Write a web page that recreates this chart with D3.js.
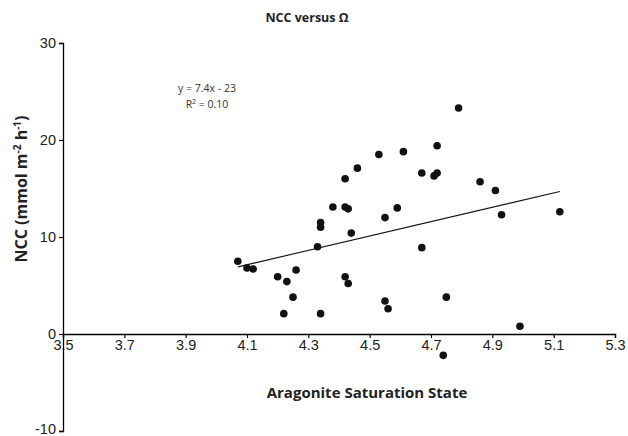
<!DOCTYPE html>
<html>
<head>
<meta charset="utf-8">
<script src="https://cdn.jsdelivr.net/npm/d3@7"></script>
<style>
  body { margin: 0; background: #fff; }
  svg { font-family: "Open Sans", "Liberation Sans", sans-serif; }
</style>
</head>
<body>
<svg width="628" height="436"></svg>
<script>
// saturation state vs NCC
var omega = [4.07, 4.10, 4.12, 4.20, 4.23, 4.26, 4.25, 4.22, 4.34, 4.33,
             4.42, 4.43, 4.44, 4.55, 4.56, 4.34, 4.34, 4.38, 4.42, 4.43,
             4.42, 4.46, 4.53, 4.61, 4.55, 4.59, 4.67, 4.79, 4.72, 4.71,
             4.72, 4.86, 4.91, 4.93, 5.12, 4.67, 4.75, 4.99, 4.74];
var ncc = [7.5, 6.8, 6.7, 5.9, 5.4, 6.6, 3.8, 2.1, 2.1, 9.0,
           5.9, 5.2, 10.4, 3.4, 2.6, 11.5, 11.0, 13.1, 13.1, 12.9,
           16.0, 17.1, 18.5, 18.8, 12.0, 13.0, 16.6, 23.3, 19.4, 16.3,
           16.6, 15.7, 14.8, 12.3, 12.6, 8.9, 3.8, 0.8, -2.2];

var xTicks = [3.5, 3.7, 3.9, 4.1, 4.3, 4.5, 4.7, 4.9, 5.1, 5.3];
var yTicks = [-10, 0, 10, 20, 30];
var trend = { slope: 7.4, intercept: -23.2 };

var svg = d3.select("svg");

var x = d3.scaleLinear().domain([3.5, 5.3]).range([63, 615]);
var y = d3.scaleLinear().domain([-10, 30]).range([431, 43]);

// x axis sits on y = 0
var xAxis = svg.append("g")
    .attr("transform", "translate(0," + y(0) + ")")
    .call(d3.axisBottom(x).tickValues(xTicks).tickSize(4).tickPadding(2).tickFormat(d3.format(".1f")));
xAxis.select(".domain").attr("stroke", "#000").attr("stroke-width", 1.3);
xAxis.selectAll(".tick line").attr("stroke", "#000").attr("stroke-width", 1.2);
xAxis.selectAll(".tick text").attr("fill", "#222").style("font-size", "14.5px");

var yAxis = svg.append("g")
    .attr("transform", "translate(" + x(3.5) + ",0)")
    .call(d3.axisLeft(y).tickValues(yTicks).tickSize(4).tickPadding(3)
      .tickFormat(function(d) { return String(d); }));
yAxis.select(".domain").attr("stroke", "#000").attr("stroke-width", 1.3);
yAxis.selectAll(".tick line").attr("stroke", "#000").attr("stroke-width", 1.2);
yAxis.selectAll(".tick text").attr("fill", "#222").style("font-size", "14.5px");
yAxis.selectAll(".tick text").filter(function(d) { return d === -10; }).attr("dy", "0.2em");

// trendline over data range
var x0 = d3.min(omega), x1 = d3.max(omega);
svg.append("line")
    .attr("x1", x(x0)).attr("y1", y(trend.slope * x0 + trend.intercept))
    .attr("x2", x(x1)).attr("y2", y(trend.slope * x1 + trend.intercept))
    .attr("stroke", "#111").attr("stroke-width", 1.1);

svg.append("g").selectAll("circle")
    .data(omega)
    .enter().append("circle")
    .attr("cx", function(d) { return x(d); })
    .attr("cy", function(d, i) { return y(ncc[i]); })
    .attr("r", 3.8)
    .attr("fill", "#111");

// text
svg.append("text")
    .attr("x", 307).attr("y", 22)
    .attr("text-anchor", "middle")
    .style("font-size", "12.5px").style("font-weight", "bold").attr("fill", "#222")
    .text("NCC versus Ω");

svg.append("text")
    .attr("x", 207).attr("y", 92)
    .attr("text-anchor", "middle")
    .style("font-size", "10.5px").attr("fill", "#333")
    .text("y = 7.4x - 23");

var r2 = svg.append("text")
    .attr("x", 207).attr("y", 108)
    .attr("text-anchor", "middle")
    .style("font-size", "10.5px").attr("fill", "#333");
r2.append("tspan").text("R");
r2.append("tspan").attr("dy", -4).style("font-size", "7px").text("2");
r2.append("tspan").attr("dy", 4).text(" = 0.10");

svg.append("text")
    .attr("x", 367).attr("y", 398)
    .attr("text-anchor", "middle")
    .style("font-size", "15px").style("font-weight", "bold").attr("fill", "#222")
    .text("Aragonite Saturation State");

var yl = svg.append("text")
    .attr("transform", "translate(27,189) rotate(-90)")
    .attr("text-anchor", "middle")
    .style("font-size", "16px").style("font-weight", "bold").attr("fill", "#222");
yl.append("tspan").text("NCC (mmol m");
yl.append("tspan").attr("dy", -6).style("font-size", "10px").text("-2");
yl.append("tspan").attr("dy", 6).text(" h");
yl.append("tspan").attr("dy", -6).style("font-size", "10px").text("-1");
yl.append("tspan").attr("dy", 6).text(")");
</script>
</body>
</html>
